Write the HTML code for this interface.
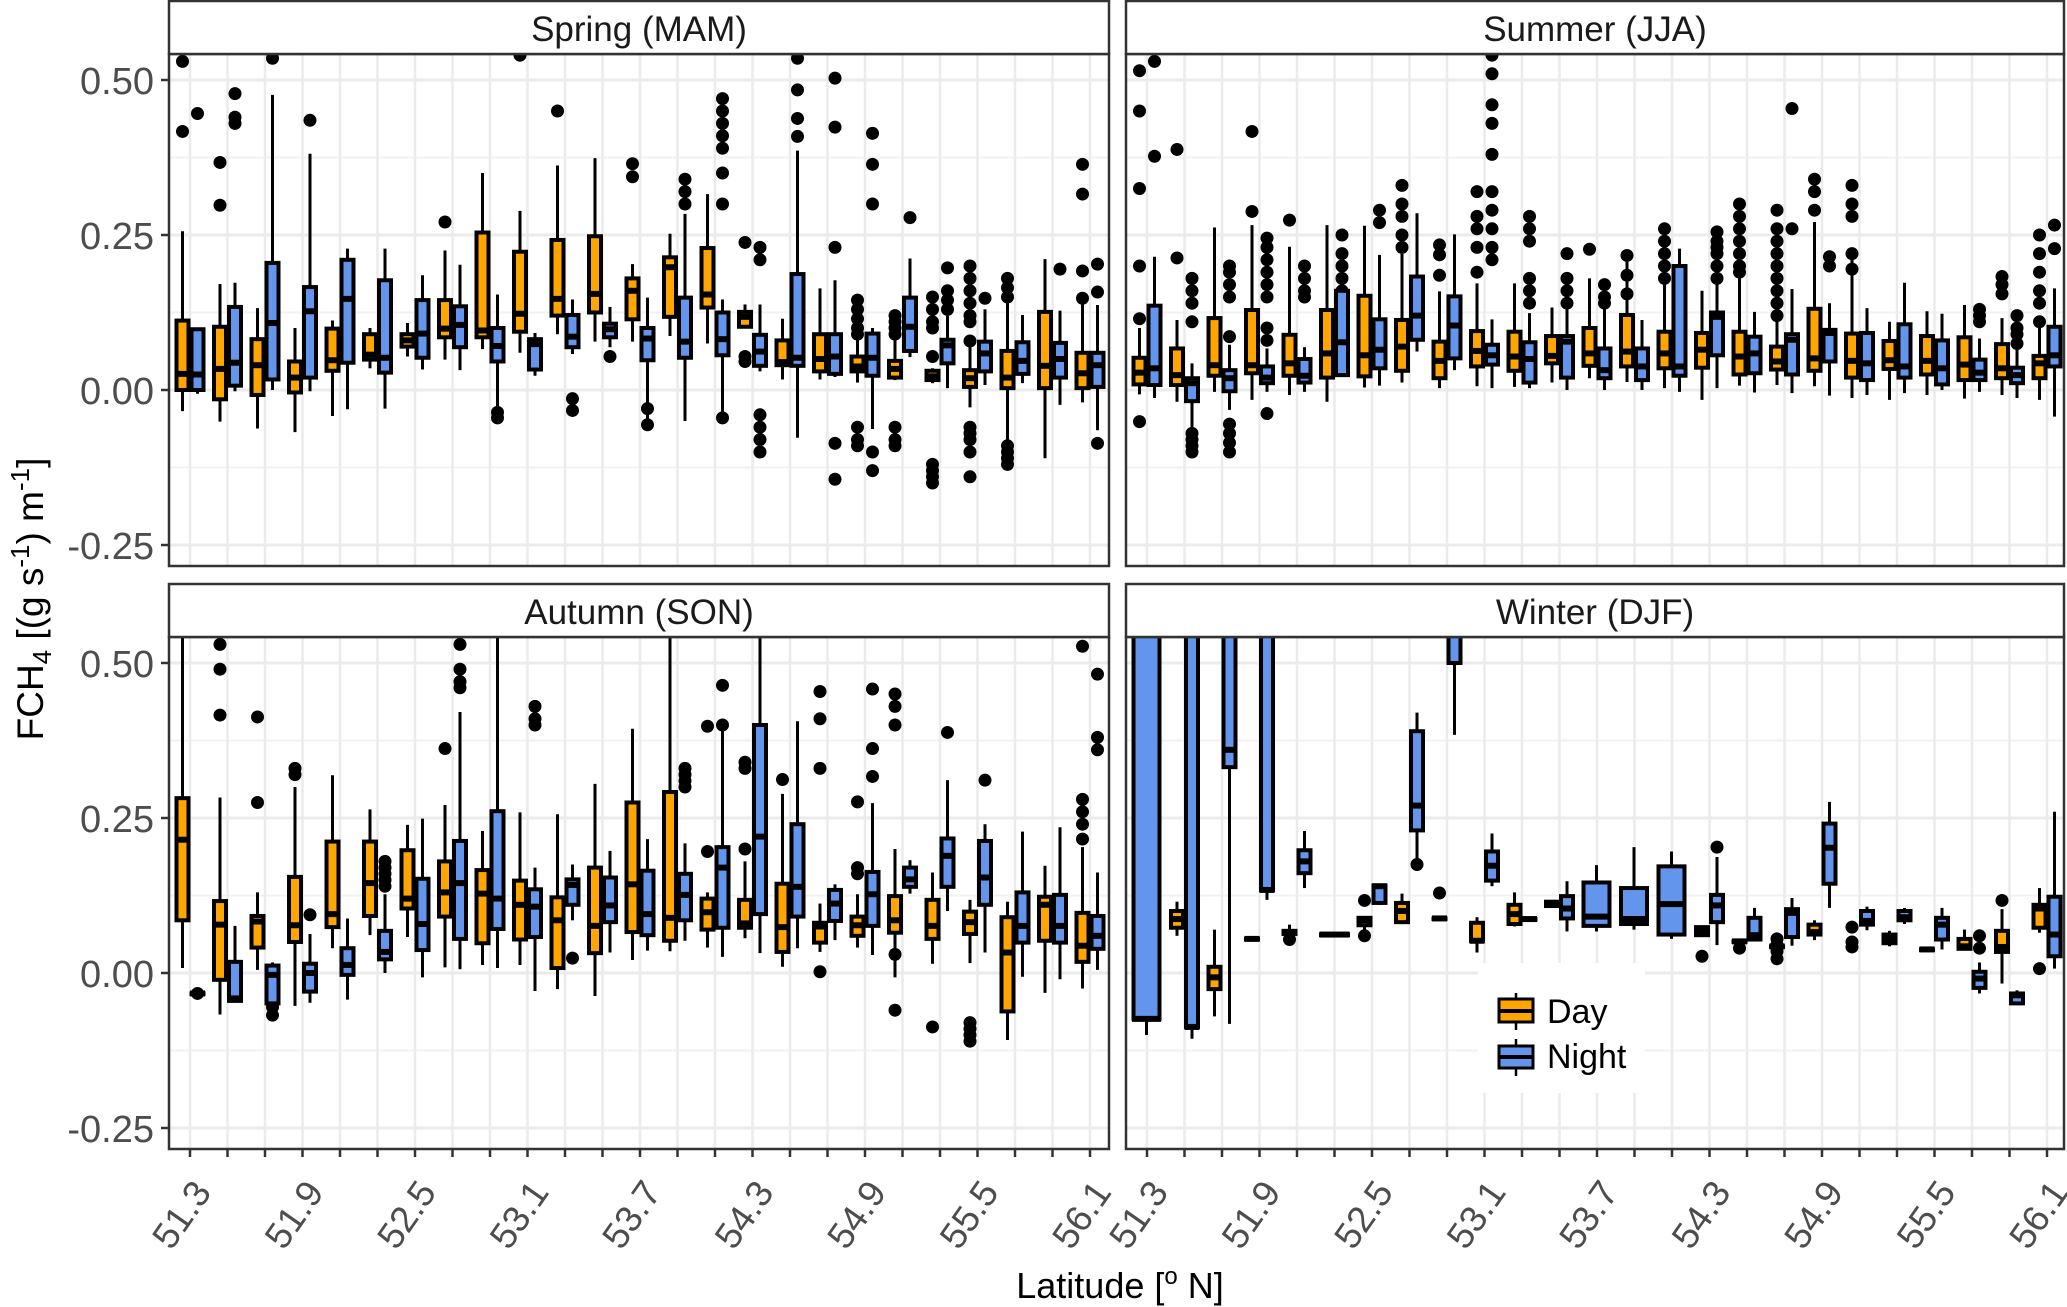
<!DOCTYPE html>
<html><head><meta charset="utf-8"><style>
html,body{margin:0;padding:0;background:#fff}
svg{display:block;font-family:"Liberation Sans",sans-serif}
</style></head><body>
<svg id="s" width="2067" height="1307" viewBox="0 0 2067 1307" xmlns="http://www.w3.org/2000/svg">
<rect width="2067" height="1307" fill="#fff"/>
<text x="1120" y="1298" font-size="36" text-anchor="middle" fill="#000">Latitude [<tspan dy="-14" font-size="24">o</tspan><tspan dy="14"> N]</tspan></text>
<text transform="translate(43,599) rotate(-90)" font-size="37" text-anchor="middle" fill="#000">FCH<tspan font-size="26" dy="8">4</tspan><tspan dy="-8"> [(g s</tspan><tspan font-size="26" dy="-14">-1</tspan><tspan dy="14">) m</tspan><tspan font-size="26" dy="-14">-1</tspan><tspan dy="14">]</tspan></text>
</svg>
<script>
const S=[
[[0,.026,.112,-.034,.256,[.53,.417]],[0,.025,.098,-.006,.098,[.446]]],
[[-.015,.034,.102,-.051,.171,[.367,.298]],[.007,.044,.134,-.002,.173,[.478,.44,.43]]],
[[-.008,.04,.082,-.062,.132,[]],[.017,.108,.205,0,.476,[.535]]],
[[-.004,.02,.046,-.068,.1,[]],[.02,.127,.166,-.002,.381,[.435]]],
[[.031,.048,.099,-.042,.112,[]],[.044,.147,.21,-.031,.228,[]]],
[[.049,.057,.09,.035,.1,[]],[.028,.052,.177,-.03,.228,[]]],
[[.07,.08,.09,.054,.108,[]],[.052,.091,.145,.033,.185,[]]],
[[.085,.099,.145,.049,.225,[.271]],[.069,.105,.135,.032,.202,[]]],
[[.085,.096,.254,.066,.35,[]],[.046,.071,.1,-.027,.154,[-.036,-.045]]],
[[.094,.123,.223,.06,.289,[.54]],[.033,.074,.082,.023,.092,[]]],
[[.12,.147,.242,.09,.362,[.45]],[.069,.086,.121,.058,.146,[-.014,-.033]]],
[[.125,.155,.248,.078,.374,[]],[.085,.098,.107,.069,.134,[.054]]],
[[.114,.16,.18,.078,.203,[.365,.344]],[.048,.083,.1,-.048,.149,[-.03,-.056]]],
[[.118,.198,.214,.087,.252,[]],[.052,.078,.149,-.05,.284,[.34,.32,.30]]],
[[.133,.154,.229,.075,.316,[]],[.056,.082,.125,-.04,.146,[-.045,.47,.45,.43,.41,.39,.35,.30]]],
[[.102,.118,.126,.102,.138,[.238,.054,.046]],[.039,.062,.089,.03,.138,[.23,.21,-.04,-.06,-.08,-.1]]],
[[.04,.045,.08,.017,.115,[]],[.039,.052,.187,-.077,.386,[.535,.484,.438,.409]]],
[[.03,.05,.09,.017,.164,[]],[.026,.054,.09,.021,.177,[.503,.424,.23,-.086,-.144]]],
[[.03,.038,.054,.012,.084,[.145,.13,.115,.1,.09,-.06,-.08,-.09]],[.023,.052,.091,-.063,.1,[.414,.364,.3,-.1,-.13]]],
[[.02,.034,.047,.016,.08,[.12,.11,.1,.09,-.06,-.08,-.09]],[.063,.102,.149,.053,.212,[.278]]],
[[.016,.022,.031,.011,.035,[.15,.13,.11,.1,.054,-.12,-.13,-.14,-.15]],[.043,.072,.081,.003,.12,[.197,.16,.145,.13]]],
[[.005,.019,.032,-.028,.07,[.2,.18,.16,.14,.12,.11,.079,-.06,-.07,-.08,-.1,-.14]],[.03,.059,.078,.008,.13,[.148]]],
[[.003,.02,.063,-.086,.142,[.18,.165,.15,-.09,-.1,-.11,-.12]],[.026,.047,.077,.011,.121,[]]],
[[.003,.039,.126,-.11,.211,[]],[.02,.05,.076,-.024,.128,[.195]]],
[[.003,.027,.06,-.02,.149,[.364,.316,.192,.148]],[.005,.04,.06,-.065,.137,[.203,.158,-.086]]]];
const U=[
[[.009,.028,.052,-.007,.1,[-.051,.2,.325,.45,.515,.115]],[.008,.035,.136,-.013,.215,[.53,.377]]],
[[.008,.024,.067,-.019,.113,[.213,.388]],[-.018,.011,.019,-.06,.043,[-.07,-.08,-.09,-.1,.11,.14,.16,.18]]],
[[.023,.04,.116,-.003,.262,[]],[-.002,.019,.032,-.032,.073,[-.055,-.07,-.085,-.1,.15,.17,.19,.2,.086]]],
[[.027,.04,.129,-.016,.266,[.417,.288]],[.011,.02,.038,-.003,.067,[-.038,.245,.23,.21,.19,.17,.15,.1,.08]]],
[[.023,.043,.089,-.008,.231,[.274]],[.012,.023,.05,-.003,.069,[.2,.18,.16,.15]]],
[[.02,.059,.129,-.019,.266,[]],[.024,.077,.16,.024,.215,[.25,.22,.2,.18,.16]]],
[[.022,.056,.152,.004,.265,[]],[.035,.065,.114,.007,.218,[.29,.27]]],
[[.031,.07,.113,.012,.22,[.33,.3,.28,.25,.23]],[.081,.12,.183,.062,.285,[]]],
[[.019,.047,.078,.003,.159,[.234,.218,.185]],[.051,.104,.151,.032,.251,[]]],
[[.038,.063,.095,.006,.172,[.32,.28,.26,.23,.19]],[.041,.056,.073,.003,.114,[.54,.51,.46,.43,.38,.32,.29,.26,.23,.21]]],
[[.031,.054,.094,.005,.172,[]],[.012,.05,.077,.003,.124,[.28,.26,.24,.18,.16,.14]]],
[[.043,.055,.087,.012,.133,[]],[.02,.078,.087,0,.164,[.22,.18,.16,.14]]],
[[.039,.059,.1,.019,.18,[.227]],[.019,.032,.067,0,.133,[.17,.15,.14]]],
[[.038,.062,.121,.013,.212,[.217,.185,.155]],[.016,.038,.067,0,.113,[]]],
[[.035,.059,.094,.003,.175,[.26,.24,.22,.2,.18]],[.023,.038,.2,-.003,.228,[]]],
[[.036,.065,.092,-.016,.16,[]],[.056,.118,.125,.003,.181,[.255,.24,.22,.2,.18,.23]]],
[[.025,.054,.094,.007,.298,[.3,.28,.26,.24,.22,.2,.19]],[.027,.059,.086,-.004,.126,[]]],
[[.033,.046,.07,.008,.126,[.29,.26,.24,.22,.2,.18,.16,.14,.12]],[.025,.081,.09,-.005,.163,[.454,.26]]],
[[.031,.051,.131,.006,.271,[.34,.32,.29]],[.046,.092,.097,-.009,.14,[.215,.2]]],
[[.02,.047,.091,-.013,.218,[.33,.3,.28,.22,.195]],[.016,.043,.092,-.008,.132,[]]],
[[.034,.048,.079,-.016,.11,[]],[.02,.038,.106,-.005,.173,[]]],
[[.025,.047,.087,-.008,.127,[]],[.009,.035,.08,0,.123,[]]],
[[.016,.041,.085,-.014,.137,[]],[.016,.028,.049,-.003,.083,[.13,.12,.11]]],
[[.019,.035,.074,-.008,.116,[.183,.17,.155]],[.011,.024,.036,-.013,.11,[.12,.1,.09,.075]]],
[[.019,.043,.055,-.016,.11,[.25,.22,.19,.16,.14,.11]],[.038,.056,.102,-.043,.164,[.266,.228]]]];
const A=[
[[.085,.215,.282,.008,.6,[]],[-.033,-.033,-.033,-.033,-.033,[-.033]]],
[[-.011,.078,.116,-.067,.283,[.53,.49,.416]],[-.045,-.041,.018,-.045,.076,[]]],
[[.041,.083,.092,.005,.13,[.413,.275]],[-.049,-.003,.012,-.054,.017,[-.04,-.055,-.068]]],
[[.05,.077,.155,-.053,.3,[.33,.32]],[-.03,0,.015,-.048,.063,[.094]]],
[[.074,.095,.212,.04,.319,[]],[-.003,.013,.04,-.043,.088,[]]],
[[.092,.145,.212,.061,.264,[]],[.022,.034,.068,0,.127,[.18,.17,.16,.15,.14]]],
[[.104,.12,.198,.058,.239,[]],[.037,.079,.152,-.007,.249,[]]],
[[.091,.13,.18,.009,.271,[.362]],[.055,.145,.213,.006,.421,[.53,.49,.47,.46]]],
[[.048,.128,.166,.013,.229,[]],[.071,.12,.261,.008,.6,[]]],
[[.054,.11,.149,.013,.259,[]],[.058,.107,.135,-.029,.17,[.43,.41,.4]]],
[[.008,.085,.122,-.026,.256,[]],[.11,.142,.151,.085,.175,[.024]]],
[[.032,.076,.17,-.037,.305,[]],[.082,.109,.154,.033,.197,[]]],
[[.066,.143,.275,.021,.394,[]],[.061,.095,.165,.036,.216,[]]],
[[.052,.089,.292,.035,.6,[]],[.085,.126,.16,.052,.209,[.33,.32,.31,.3]]],
[[.07,.098,.12,.041,.13,[.398,.196]],[.073,.17,.203,.026,.397,[.464,.4]]],
[[.073,.08,.118,.056,.18,[.34,.33,.2]],[.095,.22,.4,.032,.6,[]]],
[[.034,.074,.144,.01,.289,[.312]],[.091,.139,.24,.04,.406,[]]],
[[.049,.075,.081,.034,.112,[.454,.41,.33,.002]],[.084,.112,.134,.053,.143,[]]],
[[.06,.077,.091,.041,.127,[.276,.17,.16]],[.076,.127,.163,.029,.274,[.458,.362,.317]]],
[[.065,.085,.124,-.007,.2,[.03,-.06,.45,.43,.4]],[.139,.151,.17,.128,.182,[]]],
[[.055,.076,.118,.015,.162,[-.087]],[.139,.189,.217,.1,.311,[.388]]],
[[.063,.082,.099,.016,.118,[-.08,-.09,-.1,-.11]],[.11,.154,.213,.033,.24,[.311,.201]]],
[[-.062,.033,.09,-.108,.115,[]],[.049,.076,.13,-.006,.228,[]]],
[[.052,.11,.123,-.032,.173,[]],[.049,.076,.126,-.01,.235,[]]],
[[.018,.044,.097,-.025,.203,[.527,.216,.28,.26,.24]],[.039,.06,.092,.005,.162,[.482,.38,.36]]]];
const W=[
[null,[-.074,-.074,1,-.1,1,[],-15,14]],
[[.073,.087,.1,.06,.115,[]],[-.087,-.087,1,-.106,1,[]]],
[[-.026,-.007,.01,-.07,.07,[]],[.332,.36,1,-.082,1,[]]],
[[.055,.055,.055,.055,.055,[]],[.134,.134,1,.118,1,[]]],
[[.063,.066,.068,.063,.078,[.054]],[.161,.18,.198,.137,.229,[]]],
[[.062,.062,.062,.062,.062,[]],[.062,.062,.062,.062,.062,[]]],
[[.077,.085,.089,.07,.089,[.117,.06]],[.113,.14,.141,.11,.143,[]]],
[[.082,.1,.113,.079,.128,[]],[.23,.27,.39,.18,.42,[.29,.175]]],
[[.088,.088,.088,.088,.088,[.129]],[.5,.6,1,.384,1,[]]],
[[.052,.052,.081,.033,.09,[]],[.149,.173,.196,.14,.225,[]]],
[[.079,.095,.11,.075,.13,[]],[.087,.087,.087,.087,.087,[]]],
[[.108,.112,.115,.105,.115,[]],[.088,.104,.124,.067,.148,[]]],
[null,[.076,.091,.146,.067,.174,[],-15,14]],
[null,[.079,.087,.137,.07,.203,[],-15,14]],
[null,[.062,.111,.172,.055,.196,[],-15,14]],
[[.061,.067,.074,.061,.074,[.027]],[.082,.109,.126,.045,.187,[.203]]],
[[.051,.051,.051,.051,.051,[.04]],[.054,.061,.089,.051,.105,[]]],
[[.043,.043,.043,.043,.043,[.055,.045,.035,.023]],[.058,.097,.103,.044,.121,[]]],
[[.062,.066,.078,.053,.085,[]],[.144,.202,.241,.105,.276,[]]],
[[null,0,0,0,0,[.074,.05,.042]],[.078,.084,.1,.069,.107,[]]],
[[.048,.054,.062,.043,.068,[]],[.085,.09,.1,.079,.105,[]]],
[[.038,.038,.038,.038,.038,[]],[.054,.078,.089,.038,.105,[]]],
[[.039,.043,.055,.039,.07,[.047]],[-.024,-.009,.002,-.033,.017,[.06,.04,-.013]]],
[[.034,.042,.068,-.017,.103,[.117]],[-.049,-.036,-.033,-.052,-.028,[]]],
[[.073,.104,.11,.065,.137,[.007]],[.027,.062,.123,.007,.26,[]]]];
const svg=document.getElementById('s');
let h='';
const panels=[
{x0:169,x1:1109,t:0,title:'Spring (MAM)',d:S,yl:true},
{x0:1126,x1:2064,t:0,title:'Summer (JJA)',d:U,yl:false},
{x0:169,x1:1109,t:583,title:'Autumn (SON)',d:A,yl:true,xl:true},
{x0:1126,x1:2064,t:583,title:'Winter (DJF)',d:W,yl:false,xl:true}];
const labs=['51.3','51.9','52.5','53.1','53.7','54.3','54.9','55.5','56.1'];
panels.forEach((p,pi)=>{
 const top=p.t+54, bot=p.t+566, z=p.t+390;
 const Y=v=>z-620*v;
 const X=c=>p.x0+21+37.5*c;
 h+=`<clipPath id="c${pi}"><rect x="${p.x0}" y="${top}" width="${p.x1-p.x0}" height="${bot-top}"/></clipPath>`;
 [.375,.125,-.125].forEach(v=>h+=`<line x1="${p.x0}" x2="${p.x1}" y1="${Y(v)}" y2="${Y(v)}" stroke="#f2f2f2" stroke-width="2"/>`);
 for(let c=0;c<25;c++)h+=`<line x1="${X(c)}" x2="${X(c)}" y1="${top}" y2="${bot}" stroke="#ebebeb" stroke-width="2.5"/>`;
 [.5,.25,0,-.25].forEach(v=>h+=`<line x1="${p.x0}" x2="${p.x1}" y1="${Y(v)}" y2="${Y(v)}" stroke="#ebebeb" stroke-width="3"/>`);
 if(pi==3)h+=`<rect x="1478" y="963" width="167" height="130" fill="#fff"/>`;
 h+=`<g clip-path="url(#c${pi})">`;
 p.d.forEach((pair,c)=>{
  pair.forEach((b,k)=>{
   if(!b)return;
   const cx=X(c);
   let a=k==0?cx-15:cx, e=k==0?cx:cx+15;
   if(b.length>6){a=cx+b[6];e=cx+b[7];}
   const m=(a+e)/2, col=k==0?'#FFA500':'#6495ED';
   b[5].forEach(o=>h+=`<circle cx="${m}" cy="${Y(o)}" r="6.5" fill="#000"/>`);
   if(b[0]===null)return;
   h+=`<line x1="${m}" x2="${m}" y1="${Y(b[4])}" y2="${Y(b[3])}" stroke="#000" stroke-width="3"/>`;
   const y1=Y(b[2]), y2=Y(b[0]);
   h+=`<rect x="${a+1.5}" y="${y1}" width="${e-a-3}" height="${Math.max(y2-y1,0.5)}" fill="${col}" stroke="#000" stroke-width="4"/>`;
   h+=`<line x1="${a}" x2="${e}" y1="${Y(b[1])}" y2="${Y(b[1])}" stroke="#000" stroke-width="6"/>`;
  });
 });
 h+=`</g>`;
 h+=`<rect x="${p.x0}" y="${top}" width="${p.x1-p.x0}" height="${bot-top}" fill="none" stroke="#333" stroke-width="2.5"/>`;
 h+=`<rect x="${p.x0}" y="${p.t+1}" width="${p.x1-p.x0}" height="${53}" fill="#fff" stroke="#333" stroke-width="2.5"/>`;
 h+=`<text x="${(p.x0+p.x1)/2}" y="${p.t+41}" font-size="35" text-anchor="middle" fill="#1a1a1a">${p.title}</text>`;
 if(p.yl){[.5,.25,0,-.25].forEach(v=>{
  h+=`<line x1="161" x2="169" y1="${Y(v)}" y2="${Y(v)}" stroke="#333" stroke-width="2.5"/>`;
  h+=`<text x="154" y="${Y(v)+14}" font-size="38" text-anchor="end" fill="#4d4d4d">${v.toFixed(2)}</text>`;});}
 if(p.xl){for(let c=0;c<25;c++){h+=`<line x1="${X(c)}" x2="${X(c)}" y1="${bot}" y2="${bot+8}" stroke="#333" stroke-width="2.5"/>`;
  if(c%3==0)h+=`<text transform="translate(${X(c)+12},${bot+36}) rotate(-55)" font-size="37" text-anchor="end" dy="0.35em" fill="#4d4d4d">${labs[c/3]}</text>`;}}
});
[['#FFA500',993,999,1022,1030,1011,'Day',1023],['#6495ED',1039,1046,1068,1076,1057,'Night',1068]].forEach(l=>{
 h+=`<line x1="1516" x2="1516" y1="${l[1]}" y2="${l[4]}" stroke="#000" stroke-width="2.5"/>`;
 h+=`<rect x="1499" y="${l[2]}" width="34" height="${l[3]-l[2]}" fill="${l[0]}" stroke="#000" stroke-width="3"/>`;
 h+=`<line x1="1499" x2="1533" y1="${l[5]}" y2="${l[5]}" stroke="#000" stroke-width="4"/>`;
 h+=`<text x="1547" y="${l[7]}" font-size="34" fill="#000">${l[6]}</text>`;});
svg.insertAdjacentHTML('beforeend',h);
</script>
</body></html>
